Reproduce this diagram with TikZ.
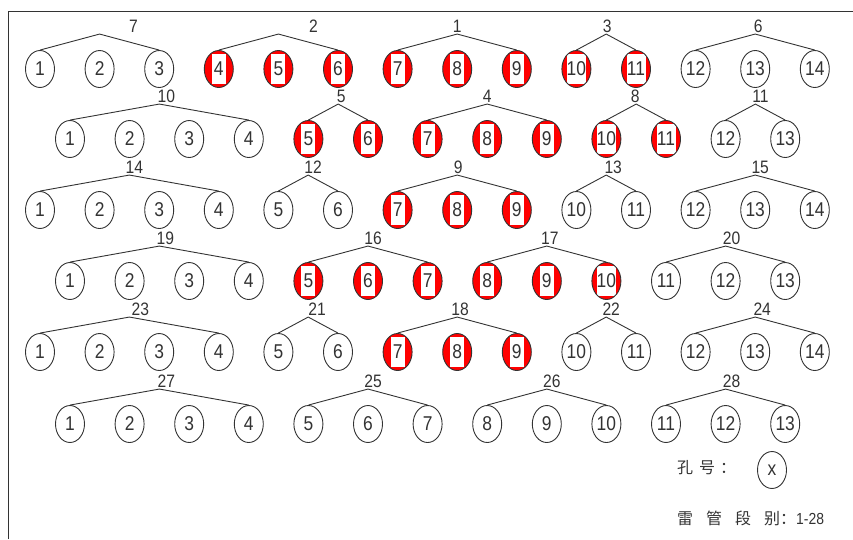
\documentclass[tikz,border=0pt]{standalone}
\usepackage{fontspec}
\setmainfont[FakeStretch=0.87]{Liberation Sans}
\newfontfamily\cjk{Noto Sans CJK SC}
\usetikzlibrary{shapes.geometric,calc}
\definecolor{ink}{HTML}{333333}
\tikzset{
  hole/.style={ellipse,draw=ink,line width=0.9pt,minimum width=29pt,minimum height=37pt,inner sep=0pt,text=ink,font=\fontsize{20}{20}\selectfont},
  hit/.style={fill=red,path picture={\fill[white] ([xshift=-#1pt,yshift=-15pt]path picture bounding box.center) rectangle ([xshift=#1pt,yshift=15pt]path picture bounding box.center);}},
  seg/.style={text=ink,font=\fontsize{18}{18}\selectfont,inner sep=1pt,anchor=south},
  link/.style={draw=ink,line width=0.9pt},
  note/.style={text=ink,font=\cjk\fontsize{16}{16}\selectfont,inner sep=0pt,anchor=west}
}

\begin{document}
\begin{tikzpicture}[x=1pt,y=-1pt]
\useasboundingbox (0,0) rectangle (853,539);
\draw[link] (8,539) -- (8,11) -- (853,11);

% rows of holes, red ones fired
\foreach \r/\y/\xa/\n/\ra/\rb in {1/69/40/14/4/11,2/139/70/13/5/11,3/210/40/14/7/9,4/281/70/13/5/10,5/352/40/14/7/9,6/424/70/13/0/0}{
  \foreach \i in {1,...,\n}{
    \pgfmathsetmacro\xx{\xa+(\i-1)*59.6}
    \pgfmathtruncatemacro\isred{and(\i>=\ra,\i<=\rb)}
    \pgfmathsetmacro\bw{\i>9 ? 9.5 : 7}
    \ifnum\isred=1
      \node[hole,hit=\bw] (r\r n\i) at (\xx,\y) {\i};
    \else
      \node[hole] (r\r n\i) at (\xx,\y) {\i};
    \fi
  }
}

% delay segments
\foreach \r/\a/\b/\t/\d in {1/1/3/7/34,1/4/6/2/35,1/7/9/1/0,1/10/11/3/1,1/12/14/6/3,
  2/1/4/10/7,2/5/6/5/3,2/7/9/4/0,2/10/11/8/-1,2/12/13/11/5,
  3/1/4/14/5,3/5/6/12/5,3/7/9/9/1,3/10/11/13/7,3/12/14/15/5,
  4/1/4/19/6,4/5/7/16/5,4/8/10/17/3,4/11/13/20/6,
  5/1/4/23/11,5/5/6/21/9,5/7/9/18/3,5/10/11/22/5,5/12/14/24/7,
  6/1/4/27/7,6/5/7/25/5,6/8/10/26/5,6/11/13/28/6}{
  \coordinate (p\t) at ($(r\r n\a.north)!0.5!(r\r n\b.north)+(0,-16)$);
  \node[seg,xshift=\d pt] (l\t) at (p\t) {\t};
  \draw[link] (r\r n\a.north) -- (p\t) -- (r\r n\b.north);
}

\node[note] (holetxt) at (677,468) {孔\hspace{6pt}号\hspace{5pt}：};
\node[hole] (holex) at (772,470) {x};
\node[note] (segtxt) at (677,518) {雷\hspace{13pt}管\hspace{13pt}段\hspace{13pt}别：{\rmfamily 1-28}};
\end{tikzpicture}
\end{document}
